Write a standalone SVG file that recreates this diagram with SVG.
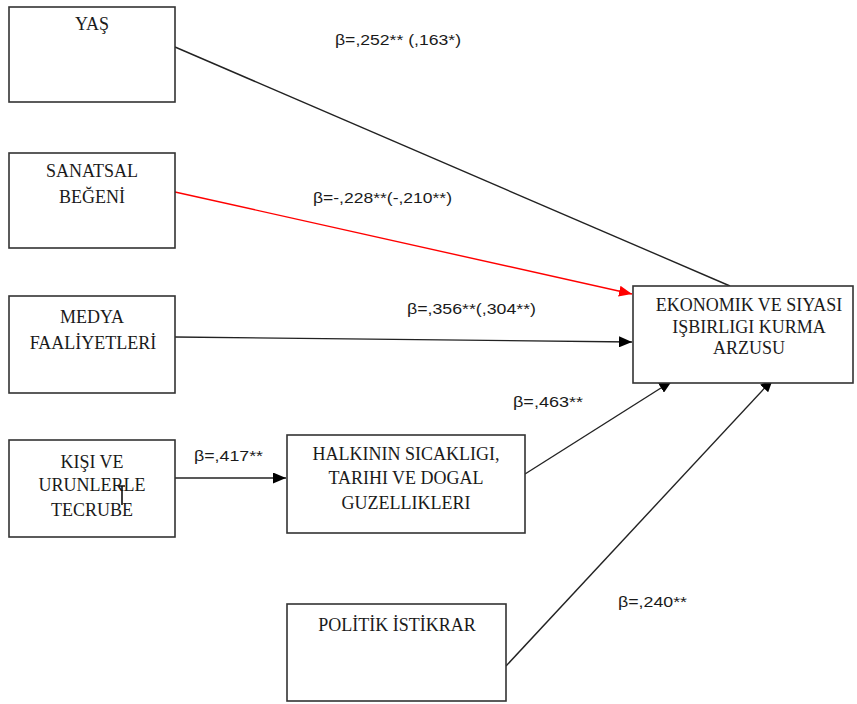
<svg xmlns="http://www.w3.org/2000/svg" width="857" height="704" viewBox="0 0 857 704">
<style>
.box{fill:#fff;stroke:#333;stroke-width:1.6}
.t{font-family:"Liberation Serif","Times New Roman",serif;font-size:18px;fill:#1a1a1a;text-anchor:middle}
.lbl{font-family:"Liberation Sans",Arial,sans-serif;font-size:14px;fill:#1a1a1a}
.ln{stroke:#222;stroke-width:1.4;fill:none}
.red{stroke:#f00;stroke-width:1.4;fill:none}
</style>
<defs>
<marker id="ab" markerUnits="userSpaceOnUse" markerWidth="13" markerHeight="11" refX="13" refY="5.5" orient="auto"><path d="M0,0 L13,5.5 L0,11 z" fill="#000"/></marker>
<marker id="ar" markerUnits="userSpaceOnUse" markerWidth="13" markerHeight="11" refX="13" refY="5.5" orient="auto"><path d="M0,0 L13,5.5 L0,11 z" fill="#f00"/></marker>
</defs>
<rect width="857" height="704" fill="#fff"/>
<g id="connectors">
<line class="ln" x1="175" y1="47" x2="730" y2="286"/>
<line class="red" x1="175" y1="192" x2="632" y2="294" marker-end="url(#ar)"/>
<line class="ln" x1="175" y1="337" x2="632" y2="342" marker-end="url(#ab)"/>
<line class="ln" x1="175" y1="478" x2="286" y2="478" marker-end="url(#ab)"/>
<line class="ln" x1="525" y1="474" x2="672" y2="381" marker-end="url(#ab)"/>
<line class="ln" x1="506" y1="666" x2="773" y2="379" marker-end="url(#ab)"/>
<text class="lbl" x="335" y="45" textLength="126" lengthAdjust="spacingAndGlyphs">β=,252** (,163*)</text>
<text class="lbl" x="313" y="203" textLength="139" lengthAdjust="spacingAndGlyphs">β=-,228**(-,210**)</text>
<text class="lbl" x="407" y="314" textLength="129" lengthAdjust="spacingAndGlyphs">β=,356**(,304**)</text>
<text class="lbl" x="194" y="461" textLength="69" lengthAdjust="spacingAndGlyphs">β=,417**</text>
<text class="lbl" x="513" y="407" textLength="70" lengthAdjust="spacingAndGlyphs">β=,463**</text>
<text class="lbl" x="618" y="607" textLength="69" lengthAdjust="spacingAndGlyphs">β=,240**</text>
</g>
<g id="yas">
<rect class="box" x="9" y="7" width="166" height="95"/>
<text class="t" x="92" y="30">YAŞ</text>
</g>
<g id="sanatsal">
<rect class="box" x="9" y="153" width="166" height="95"/>
<text class="t" x="92" y="177">SANATSAL</text>
<text class="t" x="92" y="203">BEĞENİ</text>
</g>
<g id="medya">
<rect class="box" x="9" y="296" width="166" height="97"/>
<text class="t" x="92" y="323">MEDYA</text>
<text class="t" x="93" y="349">FAALİYETLERİ</text>
</g>
<g id="kisi">
<rect class="box" x="9" y="440" width="166" height="97"/>
<text class="t" x="92" y="468">KIŞI VE</text>
<text class="t" x="92" y="491">URUNLERLE</text>
<text class="t" x="92" y="516">TECRUBE</text>
<path d="M122,486 V505 M119,486 H125" stroke="#111" stroke-width="1.6" fill="none"/>
</g>
<g id="halkinin">
<rect class="box" x="287" y="435" width="238" height="98"/>
<text class="t" x="406" y="460">HALKININ SICAKLIGI,</text>
<text class="t" x="406" y="484">TARIHI VE DOGAL</text>
<text class="t" x="406" y="509">GUZELLIKLERI</text>
</g>
<g id="ekonomik">
<rect class="box" x="633" y="286" width="220" height="97"/>
<text class="t" x="749" y="311">EKONOMIK VE SIYASI</text>
<text class="t" x="749" y="333">IŞBIRLIGI KURMA</text>
<text class="t" x="749" y="354">ARZUSU</text>
</g>
<g id="politik">
<rect class="box" x="287" y="604" width="219" height="97"/>
<text class="t" x="397" y="631">POLİTİK İSTİKRAR</text>
</g>
</svg>
